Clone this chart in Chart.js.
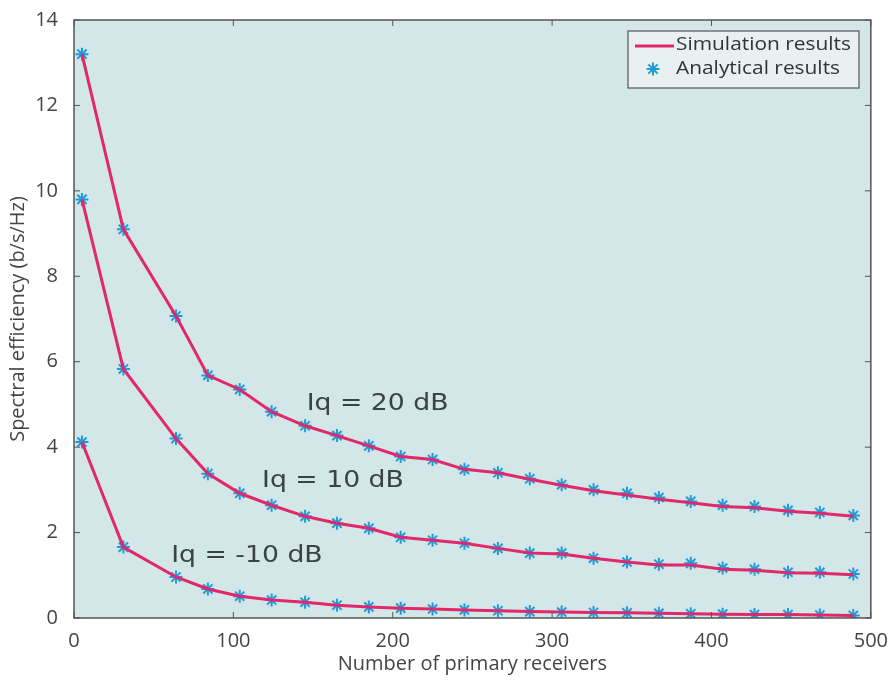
<!DOCTYPE html>
<html>
<head>
<meta charset="utf-8">
<title>Spectral efficiency vs number of primary receivers</title>
<script src="https://cdn.jsdelivr.net/npm/chart.js@4"></script>
<style>
  html, body { margin: 0; padding: 0; background: #ffffff; }
  #wrap { width: 891px; height: 682px; position: relative; }
</style>
</head>
<body>
<div id="wrap"><canvas id="myChart"></canvas></div>
<script>
// number of primary receivers
const receivers = [5, 31, 64, 84, 104, 124, 145, 165, 185, 205, 225, 245, 266, 286, 306, 326, 347, 367, 387, 407, 427, 448, 468, 489];

// Iq = 20 dB
const sim20 = [13.2, 9.1, 7.07, 5.68, 5.35, 4.83, 4.5, 4.27, 4.03, 3.78, 3.71, 3.48, 3.4, 3.25, 3.11, 2.98, 2.88, 2.78, 2.7, 2.61, 2.58, 2.5, 2.45, 2.38];
const ana20 = [13.2, 9.1, 7.07, 5.68, 5.35, 4.83, 4.5, 4.27, 4.03, 3.78, 3.71, 3.48, 3.4, 3.26, 3.12, 3.0, 2.92, 2.82, 2.73, 2.64, 2.61, 2.52, 2.47, 2.4];

// Iq = 10 dB
const sim10 = [9.8, 5.83, 4.2, 3.38, 2.92, 2.64, 2.38, 2.22, 2.1, 1.89, 1.82, 1.75, 1.63, 1.52, 1.5, 1.4, 1.31, 1.24, 1.24, 1.14, 1.12, 1.06, 1.05, 1.01];
const ana10 = [9.8, 5.83, 4.2, 3.38, 2.92, 2.64, 2.38, 2.22, 2.1, 1.89, 1.82, 1.75, 1.63, 1.52, 1.52, 1.4, 1.31, 1.26, 1.28, 1.17, 1.14, 1.07, 1.07, 1.03];

// Iq = -10 dB
const simM10 = [4.12, 1.66, 0.96, 0.68, 0.51, 0.42, 0.37, 0.3, 0.26, 0.23, 0.21, 0.19, 0.17, 0.15, 0.14, 0.13, 0.12, 0.11, 0.1, 0.09, 0.08, 0.08, 0.07, 0.06];
const anaM10 = [4.12, 1.66, 0.96, 0.68, 0.51, 0.42, 0.37, 0.3, 0.26, 0.23, 0.21, 0.19, 0.17, 0.15, 0.14, 0.13, 0.12, 0.11, 0.1, 0.09, 0.08, 0.08, 0.07, 0.06];

// curve labels: text, x, y (data units)
const curveLabels = [
    ['Iq = 20 dB', 146, 5.0],
    ['Iq = 10 dB', 118, 3.2],
    ['Iq = -10 dB', 61, 1.45]
];

const xTicks = [0, 100, 200, 300, 400, 500];
const yTicks = [0, 2, 4, 6, 8, 10, 12, 14];

const lineColor = '#e0286a';
const starColor = '#1f9bd8';
const tickFont = { family: 'Open Sans', size: 20 };
const textWiden = 1.16; // the wide look of the label lettering

function toPoints(ys) {
    return receivers.map((x, i) => ({ x: x, y: ys[i] }));
}

function simSet(ys) {
    return {
        label: 'Simulation results',
        data: toPoints(ys),
        borderColor: lineColor,
        borderWidth: 3,
        pointRadius: 0,
        fill: false,
        tension: 0
    };
}

function anaSet(ys) {
    return {
        label: 'Analytical results',
        data: toPoints(ys),
        showLine: false,
        pointStyle: 'star',
        pointRadius: 6.5,
        pointBorderWidth: 2,
        pointBorderColor: starColor,
        pointBackgroundColor: starColor
    };
}

function wideText(ctx, text, x, y) {
    ctx.save();
    ctx.translate(x, y);
    ctx.scale(textWiden, 1);
    ctx.fillText(text, 0, 0);
    ctx.restore();
}

// axes box, inward ticks, curve labels and legend
const framePlugin = {
    id: 'frame',
    beforeDraw(chart) {
        const { ctx, chartArea: a } = chart;
        ctx.save();
        ctx.fillStyle = '#d3e6e8';
        ctx.fillRect(a.left, a.top, a.right - a.left, a.bottom - a.top);
        ctx.restore();
    },
    afterDatasetsDraw(chart) {
        const { ctx, scales } = chart;
        ctx.save();
        ctx.fillStyle = '#394346';
        ctx.font = '23px "DejaVu Sans"';
        ctx.textBaseline = 'middle';
        ctx.textAlign = 'left';
        curveLabels.forEach(([t, x, y]) => {
            wideText(ctx, t, scales.x.getPixelForValue(x), scales.y.getPixelForValue(y));
        });
        ctx.restore();
    },
    afterDraw(chart) {
        const { ctx, chartArea: a, scales } = chart;
        ctx.save();
        ctx.strokeStyle = '#555';
        ctx.lineWidth = 1.5;
        ctx.strokeRect(a.left, a.top, a.right - a.left, a.bottom - a.top);
        ctx.lineWidth = 1;
        ctx.beginPath();
        const len = 6;
        xTicks.forEach(v => {
            const px = scales.x.getPixelForValue(v);
            ctx.moveTo(px, a.bottom); ctx.lineTo(px, a.bottom - len);
            ctx.moveTo(px, a.top); ctx.lineTo(px, a.top + len);
        });
        yTicks.forEach(v => {
            const py = scales.y.getPixelForValue(v);
            ctx.moveTo(a.left, py); ctx.lineTo(a.left + len, py);
            ctx.moveTo(a.right, py); ctx.lineTo(a.right - len, py);
        });
        ctx.stroke();

        // legend
        const lx = 628, ly = 31, lw = 231, lh = 57;
        ctx.fillStyle = '#e8f0f2';
        ctx.fillRect(lx, ly, lw, lh);
        ctx.strokeStyle = '#555';
        ctx.lineWidth = 1.2;
        ctx.strokeRect(lx, ly, lw, lh);
        ctx.strokeStyle = lineColor;
        ctx.lineWidth = 3;
        ctx.beginPath();
        ctx.moveTo(635, 46); ctx.lineTo(674, 46);
        ctx.stroke();
        ctx.strokeStyle = starColor;
        ctx.lineWidth = 2;
        ctx.beginPath();
        const sx = 653, sy = 69, r = 6.5;
        for (let k = 0; k < 4; k++) {
            const ang = k * Math.PI / 4;
            ctx.moveTo(sx - r * Math.cos(ang), sy - r * Math.sin(ang));
            ctx.lineTo(sx + r * Math.cos(ang), sy + r * Math.sin(ang));
        }
        ctx.stroke();
        ctx.fillStyle = '#333';
        ctx.font = '18px "Open Sans"';
        ctx.textBaseline = 'middle';
        wideText(ctx, 'Simulation results', 676, 45);
        wideText(ctx, 'Analytical results', 676, 69);
        ctx.restore();
    }
};

function createChart() {
    const ctx = document.getElementById('myChart').getContext('2d');
    new Chart(ctx, {
        type: 'line',
        data: {
            datasets: [
                simSet(sim20), anaSet(ana20),
                simSet(sim10), anaSet(ana10),
                simSet(simM10), anaSet(anaM10)
            ]
        },
        options: {
            responsive: true,
            maintainAspectRatio: false,
            animation: false,
            layout: { padding: { top: 18, right: 18, left: 0, bottom: 0 } },
            plugins: {
                legend: { display: false },
                tooltip: { enabled: false }
            },
            scales: {
                x: {
                    type: 'linear',
                    min: 0,
                    max: 500,
                    afterFit(scale) { scale.height = 64; },
                    afterBuildTicks(scale) { scale.ticks = xTicks.map(v => ({ value: v })); },
                    grid: { display: false },
                    border: { display: false },
                    ticks: { color: '#444', font: tickFont, padding: 3, maxRotation: 0 },
                    title: {
                        display: true,
                        text: 'Number of primary receivers',
                        color: '#444',
                        font: { family: 'Open Sans', size: 20 },
                        padding: { top: 0, bottom: 6 }
                    }
                },
                y: {
                    type: 'linear',
                    min: 0,
                    max: 14,
                    afterFit(scale) { scale.width = 74; },
                    afterBuildTicks(scale) { scale.ticks = yTicks.map(v => ({ value: v })); },
                    grid: { display: false },
                    border: { display: false },
                    ticks: { color: '#444', font: tickFont, padding: 8 },
                    title: {
                        display: true,
                        text: 'Spectral efficiency (b/s/Hz)',
                        color: '#444',
                        font: { family: 'Open Sans', size: 20 },
                        padding: { top: 6, bottom: 0 }
                    }
                }
            }
        },
        plugins: [framePlugin]
    });
}

document.addEventListener('DOMContentLoaded', createChart);
</script>
</body>
</html>
